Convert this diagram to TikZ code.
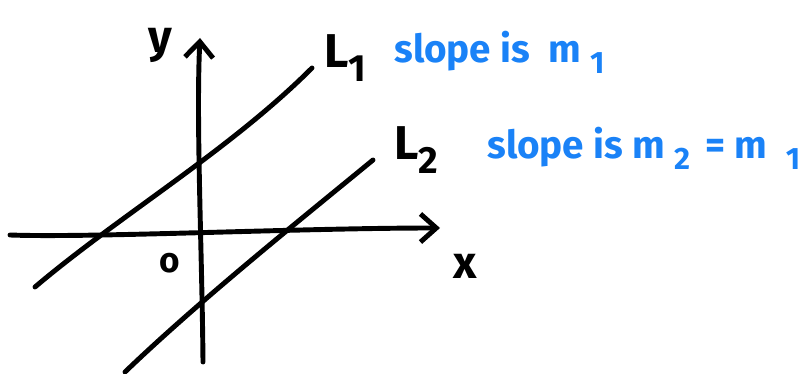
\documentclass[tikz,border=0pt]{standalone}
\usepackage{fontspec}
\setmainfont{Fira Sans}
\usetikzlibrary{arrows.meta}
\definecolor{penblue}{HTML}{1A82F7}
\newcommand{\sbs}[1]{\raisebox{-0.28em}{\scalebox{0.8}{#1}}}
\tikzset{
  pen/.style={line width=2.8pt, line cap=round, line join=round, black},
  axisarrow/.style={pen, -{Straight Barb[length=9pt,width=16pt,line width=2.8pt]}},
  lbl/.style={font=\fontsize{27}{32}\selectfont\bfseries, inner sep=0pt},
  bluetxt/.style={font=\fontsize{22}{26}\selectfont\bfseries, text=penblue, inner sep=0pt, anchor=west},
}
\begin{document}
\begin{tikzpicture}[x=0.02cm, y=-0.02cm]
\useasboundingbox (0,0) rectangle (809,374);
% axes
\coordinate (xs) at (10,235);
\coordinate (xe) at (440,228);
\coordinate (ys) at (203,362);
\coordinate (ye) at (200,38);
\draw[axisarrow] (xs) .. controls (90,238) and (300,228) .. (xe);
\draw[axisarrow] (ys) .. controls (202,250) and (196,120) .. (ye);
% lines
\coordinate (l1s) at (35,287);
\coordinate (l1e) at (312,68);
\coordinate (l2s) at (125,372);
\coordinate (l2e) at (373,160);
\draw[pen] (l1s) .. controls (120,215) and (230,150) .. (l1e);
\draw[pen] (l2s) .. controls (200,300) and (300,220) .. (l2e);
% labels
\node[lbl, font=\fontsize{26}{30}\selectfont\bfseries] (ylab) at (160,45) {y};
\node[lbl, font=\fontsize{26}{30}\selectfont\bfseries] (xlab) at (465,266) {x};
\node[lbl, font=\fontsize{20}{24}\selectfont\bfseries] (olab) at (170,263) {o};
\node[lbl] (L1) at (345,58) {L\sbs{1}};
\node[lbl] (L2) at (416,150) {L\sbs{2}};
\node[bluetxt] (s1) at (394,52) {slope is\ \ m\ \sbs{1}};
\node[bluetxt] (s2) at (487,148) {slope is m\ \sbs{2}\ \,=\ m\ \ \sbs{1}};
\end{tikzpicture}
\end{document}
